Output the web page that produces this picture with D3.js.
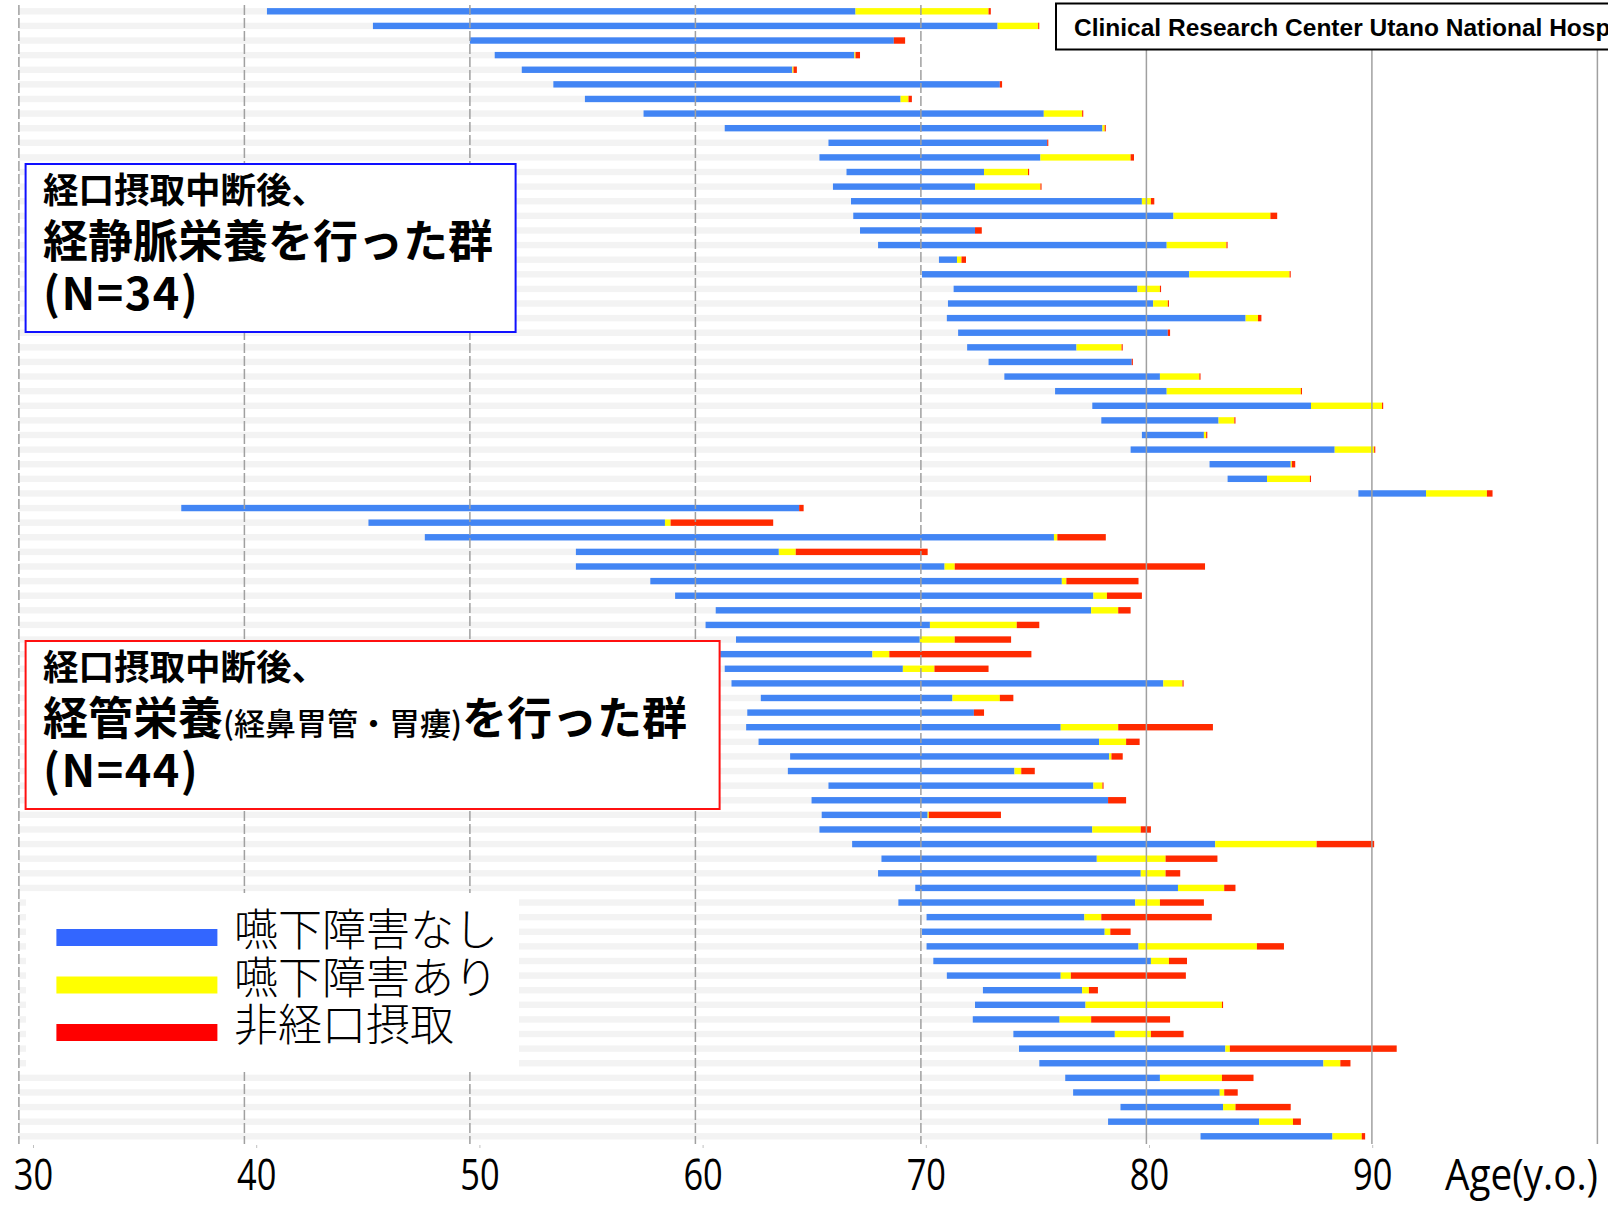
<!DOCTYPE html>
<html lang="ja">
<head>
<meta charset="utf-8">
<title>age course</title>
<script src="https://cdn.jsdelivr.net/npm/d3@7"></script>
<style>
body { margin: 0; background: #fff; }
svg { display: block; }
</style>
</head>
<body>
<script>

// each row: [age at start, end of no-dysphagia, end of dysphagia w/ oral intake, end of non-oral period]
var ivRows = [
  [41.0, 67.1, 73.0, 73.1], [45.7, 73.4, 75.2, 75.25], [50.0, 68.8, 68.8, 69.3], [51.1, 67.05, 67.1, 67.3],
  [52.3, 64.3, 64.35, 64.5], [53.7, 73.5, 73.5, 73.6], [55.1, 69.1, 69.45, 69.6], [57.7, 75.45, 77.15, 77.2],
  [61.3, 78.05, 78.15, 78.2], [65.9, 75.6, 75.6, 75.65], [65.5, 75.3, 79.3, 79.45], [66.7, 72.8, 74.75, 74.8],
  [66.1, 72.4, 75.3, 75.35], [66.9, 79.8, 80.2, 80.35], [67.0, 81.2, 85.5, 85.8], [67.3, 72.4, 72.4, 72.7],
  [68.1, 80.9, 83.55, 83.6], [70.8, 71.6, 71.8, 72.0], [70.05, 81.9, 86.35, 86.4], [71.45, 79.6, 80.6, 80.65],
  [71.2, 80.3, 80.95, 81.0], [71.15, 84.4, 84.95, 85.1], [71.65, 80.95, 80.95, 81.05], [72.05, 76.9, 78.9, 78.95],
  [73.0, 79.35, 79.35, 79.4], [73.7, 80.6, 82.35, 82.4], [75.95, 80.9, 86.85, 86.9], [77.6, 87.3, 90.45, 90.5],
  [78.0, 83.2, 83.9, 83.95], [79.8, 82.55, 82.65, 82.7], [79.3, 88.35, 90.1, 90.15], [82.8, 86.4, 86.45, 86.6],
  [83.6, 85.35, 87.25, 87.3], [89.4, 92.4, 95.1, 95.35]
];

var tubeRows = [
  [37.2, 64.6, 64.6, 64.8], [45.5, 58.65, 58.9, 63.45], [48.0, 75.9, 76.05, 78.2], [54.7, 63.7, 64.45, 70.3],
  [54.7, 71.05, 71.5, 82.6], [58.0, 76.25, 76.45, 79.65], [59.1, 77.65, 78.25, 79.8], [60.9, 77.55, 78.75, 79.3],
  [60.45, 70.4, 74.25, 75.25], [61.8, 69.95, 71.5, 74.0], [61.1, 67.85, 68.6, 74.9], [61.3, 69.2, 70.6, 73.0],
  [61.6, 80.75, 81.6, 81.65], [62.9, 71.4, 73.5, 74.1], [62.3, 72.35, 72.35, 72.8], [62.25, 76.2, 78.75, 82.95],
  [62.8, 77.9, 79.1, 79.7], [64.2, 78.35, 78.45, 78.95], [64.1, 74.15, 74.45, 75.05], [65.9, 77.65, 78.05, 78.1],
  [65.15, 78.3, 78.3, 79.1], [65.6, 70.3, 70.35, 73.55], [65.5, 77.6, 79.75, 80.2], [66.95, 83.05, 87.55, 90.1],
  [68.25, 77.8, 80.85, 83.15], [68.1, 79.75, 80.85, 81.5], [69.75, 81.4, 83.45, 83.95], [69.0, 79.5, 80.6, 82.55],
  [70.25, 77.25, 78.0, 82.9], [70.05, 78.15, 78.4, 79.3], [70.25, 79.65, 84.9, 86.1], [70.55, 80.2, 81.0, 81.8],
  [71.15, 76.2, 76.65, 81.75], [72.75, 77.15, 77.45, 77.85], [72.4, 77.3, 83.35, 83.4], [72.3, 76.15, 77.55, 81.05],
  [74.1, 78.6, 80.2, 81.65], [74.35, 83.5, 83.7, 91.1], [75.25, 87.85, 88.6, 89.05], [76.4, 80.6, 83.35, 84.75],
  [76.75, 83.25, 83.45, 84.05], [78.85, 83.4, 83.95, 86.4], [78.3, 85.0, 86.5, 86.85], [82.4, 88.25, 89.55, 89.7]
];

var tickAges = [30, 40, 50, 60, 70, 80, 90];
var gridAges = [30, 40, 50, 60, 70, 80, 90, 100];
var legendLabels = ["嚥下障害なし", "嚥下障害あり", "非経口摂取"];
var axisTitle = "Age(y.o.)";
var titleText = "Clinical Research Center Utano National Hospital";

var phaseColors = ["#4285f4", "#ffff00", "#ff2a00"];
var legendColors = ["#3366ff", "#ffff00", "#ff0000"];
var jp = "'Noto Sans CJK JP', sans-serif";

var svg = d3.select("body")
  .append("svg")
  .attr("width", 1608)
  .attr("height", 1207);

var x = d3.scaleLinear().domain([30, 100]).range([18.9, 1597.4]);
// tick labels sit on a slightly different scale than the grid in the original
var xLabel = d3.scaleLinear().domain([30, 100]).range([33, 1595.4]);

var rows = ivRows.concat(tubeRows);
var y = d3.scalePoint().domain(d3.range(rows.length)).range([11.3, 1136.3]);
var barH = 6.4;

// light gray lead-in stripe up to the start age
svg.append("g")
  .selectAll("rect")
  .data(rows)
  .enter()
  .append("rect")
  .attr("x", x(30))
  .attr("y", function(d, i) { return y(i) - barH / 2; })
  .attr("width", function(d) { return x(d[0]) - x(30); })
  .attr("height", barH)
  .attr("fill", "#f3f3f3");

var segs = [];
rows.forEach(function(d, i) {
  for (var k = 0; k < 3; k++) {
    if (d[k + 1] > d[k]) segs.push({row: i, from: d[k], to: d[k + 1], phase: k});
  }
});

svg.append("g")
  .selectAll("rect")
  .data(segs)
  .enter()
  .append("rect")
  .attr("x", function(d) { return x(d.from); })
  .attr("y", function(d) { return y(d.row) - barH / 2; })
  .attr("width", function(d) { return x(d.to) - x(d.from); })
  .attr("height", barH)
  .attr("fill", function(d) { return phaseColors[d.phase]; });

// grid
svg.append("g")
  .selectAll("line")
  .data(gridAges)
  .enter()
  .append("line")
  .attr("x1", function(d) { return x(d); })
  .attr("x2", function(d) { return x(d); })
  .attr("y1", 5)
  .attr("y2", 1144)
  .attr("stroke", "#a0a0a0")
  .attr("stroke-width", 1.5)
  .attr("stroke-dasharray", function(d) { return d <= 70 ? "10,3" : null; });

// axis
var ax = svg.append("g")
  .attr("transform", "translate(0,1145)")
  .call(d3.axisBottom(xLabel).tickValues(tickAges).tickSize(3).tickFormat(d3.format("d")));
ax.select(".domain").remove();
ax.selectAll(".tick line").attr("stroke", "#c0c0c0");
ax.selectAll(".tick text")
  .attr("y", 45)
  .attr("dy", null)
  .attr("fill", "#000")
  .attr("font-family", "'Open Sans', sans-serif")
  .attr("font-weight", 400)
  .attr("font-size", 43)
  .attr("transform", "scale(0.8,1)");

svg.append("text")
  .attr("transform", "translate(1598,1190) scale(0.9,1)")
  .attr("text-anchor", "end")
  .attr("font-family", "'Open Sans', sans-serif")
  .attr("font-weight", 400)
  .attr("font-size", 43)
  .text(axisTitle);

// group boxes
function groupBox(top, width, color, middle, n) {
  var g = svg.append("g");
  g.append("rect")
    .attr("x", 25.6).attr("y", top)
    .attr("width", width).attr("height", 168)
    .attr("fill", "#fff")
    .attr("stroke", color)
    .attr("stroke-width", 2);
  g.append("text")
    .attr("x", 43).attr("y", top + 39)
    .attr("font-family", jp)
    .attr("font-weight", 700)
    .attr("font-size", 35.5)
    .text("経口摂取中断後、");
  var l2 = g.append("text")
    .attr("x", 43).attr("y", top + 94)
    .attr("font-family", jp)
    .attr("font-weight", 700)
    .attr("font-size", 45);
  middle.forEach(function(p) {
    l2.append("tspan").attr("font-size", p[1]).attr("font-weight", p[2]).text(p[0]);
  });
  g.append("text")
    .attr("x", 43).attr("y", top + 146)
    .attr("font-family", jp)
    .attr("font-weight", 700)
    .attr("font-size", 45)
    .attr("letter-spacing", 1.5)
    .text("(N=" + n + ")");
}

groupBox(164, 490, "#1010ff", [["経静脈栄養を行った群", 45, 700]], ivRows.length);
groupBox(641, 694, "#ff1010", [["経管栄養", 45, 700], ["(経鼻胃管・胃瘻)", 31, 500], ["を行った群", 45, 700]], tubeRows.length);

// legend
var leg = svg.append("g");
leg.append("rect")
  .attr("x", 26).attr("y", 893)
  .attr("width", 493).attr("height", 179)
  .attr("fill", "#fff");
var legItems = leg.selectAll("g.item")
  .data(legendLabels)
  .enter()
  .append("g")
  .attr("class", "item")
  .attr("transform", function(d, i) { return "translate(0," + (946 + i * 47.5) + ")"; });
legItems.append("rect")
  .attr("x", 56.4).attr("y", -17)
  .attr("width", 161).attr("height", 17)
  .attr("fill", function(d, i) { return legendColors[i]; });
legItems.append("text")
  .attr("x", 234)
  .attr("font-family", jp)
  .attr("font-weight", 300)
  .attr("font-size", 44)
  .text(function(d) { return d; });

// title box, cut off at right edge
svg.append("rect")
  .attr("x", 1056).attr("y", 3.5)
  .attr("width", 700).attr("height", 46)
  .attr("fill", "#fff")
  .attr("stroke", "#000")
  .attr("stroke-width", 2);
svg.append("text")
  .attr("x", 1074).attr("y", 36)
  .attr("font-family", "'Liberation Sans', Arial, sans-serif")
  .attr("font-weight", 700)
  .attr("font-size", 24.5)
  .text(titleText);

</script>
</body>
</html>
